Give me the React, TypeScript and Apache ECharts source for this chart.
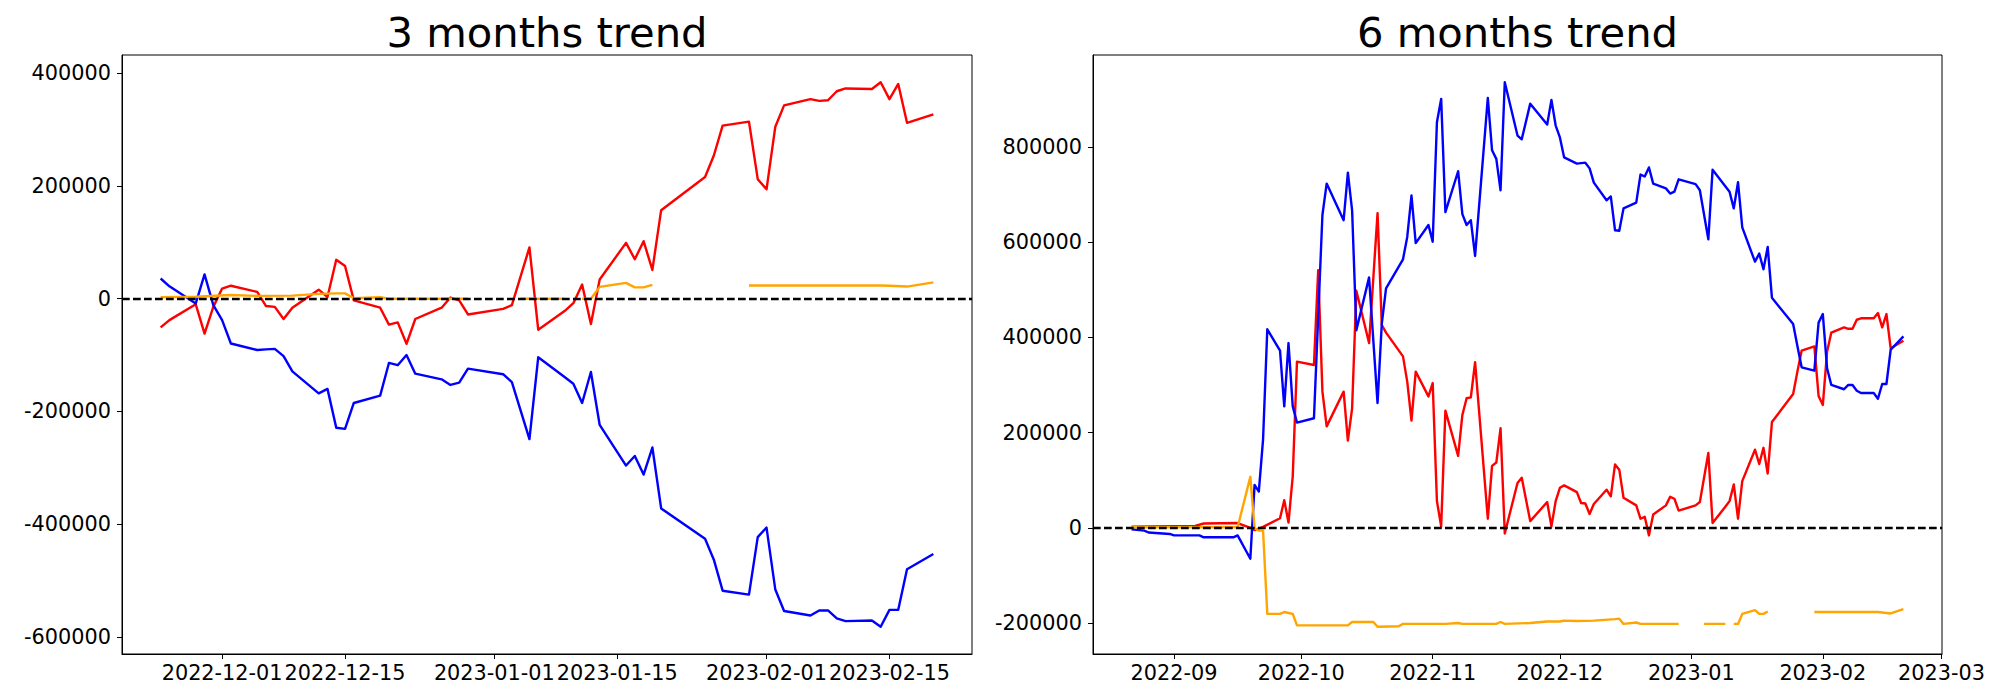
import React, { useEffect, useRef } from 'react';
import * as echarts from 'echarts';

const ts = (s: string) => {
  const [y, m, d] = s.split('-').map(Number);
  return new Date(y, m - 1, d).getTime();
};

// ---------- 3 months trend ----------
const title3m = '3 months trend';
const dates3m = [
  '2022-11-24', '2022-11-25', '2022-11-28', '2022-11-29', '2022-11-30',
  '2022-12-01', '2022-12-02', '2022-12-05', '2022-12-06', '2022-12-07', '2022-12-08', '2022-12-09',
  '2022-12-12', '2022-12-13', '2022-12-14', '2022-12-15', '2022-12-16', '2022-12-19', '2022-12-20',
  '2022-12-21', '2022-12-22', '2022-12-23', '2022-12-26', '2022-12-27', '2022-12-28', '2022-12-29',
  '2023-01-02', '2023-01-03', '2023-01-05', '2023-01-06', '2023-01-09', '2023-01-10', '2023-01-11',
  '2023-01-12', '2023-01-13', '2023-01-16', '2023-01-17', '2023-01-18', '2023-01-19', '2023-01-20',
  '2023-01-25', '2023-01-26', '2023-01-27', '2023-01-30', '2023-01-31',
  '2023-02-01', '2023-02-02', '2023-02-03', '2023-02-06', '2023-02-07', '2023-02-08', '2023-02-09',
  '2023-02-10', '2023-02-13', '2023-02-14', '2023-02-15', '2023-02-16', '2023-02-17', '2023-02-20',
];
const blue3m = [
  35800, 22000, -8500, 43000, -11500,
  -38000, -79500, -91000, -90000, -89000, -102000, -129000,
  -168000, -160000, -229000, -231000, -185000, -172000, -114000,
  -118000, -100000, -133000, -143000, -153000, -149000, -124000,
  -134000, -148000, -249000, -104000, -139000, -151000, -185000,
  -130000, -224000, -296000, -279000, -312000, -264000, -372000,
  -426000, -463000, -518000, -525000, -423000,
  -406000, -516000, -554000, -562000, -553000, -553000, -567000,
  -572000, -571000, -582000, -552000, -552000, -480000, -453000,
];
const red3m = [
  -51000, -38000, -10000, -62000, -14500,
  18000, 23000, 12000, -13000, -14500, -36000, -16000,
  16000, 3000, 69000, 58000, -3000, -16000, -46000,
  -42000, -80000, -36000, -16000, 2000, -3000, -28000,
  -18000, -11500, 91000, -55000, -22000, -8000, 25000,
  -45000, 34000, 99000, 70000, 102000, 51000, 157000,
  216000, 254000, 307000, 314000, 212000,
  194000, 305000, 343000, 354000, 351000, 352000, 368000,
  373000, 372000, 384000, 354000, 381000, 312000, 327000,
];
const orangeDates3m = [
  '2022-11-24', '2022-11-28', '2022-12-02', '2022-12-05', '2022-12-09', '2022-12-12', '2022-12-14',
  '2022-12-15', '2022-12-16', '2022-12-19', '2022-12-20', '2022-12-29', '2023-01-03', '2023-01-04',
  '2023-01-09', '2023-01-10', '2023-01-11', '2023-01-12', '2023-01-13', '2023-01-16', '2023-01-17',
  '2023-01-18', '2023-01-19', '2023-01-20', '2023-01-30', '2023-02-14', '2023-02-15', '2023-02-17',
  '2023-02-20',
];
const orange3m: (number | null)[] = [
  2500, 3500, 6500, 5000, 5500, 8500, 9500,
  9500, 700, 2500, 0, 0, null, 0,
  0, null, 0, 0, 21000, 28000, 20000,
  20000, 24500, null, 23500, 23500, 23000, 21500,
  29000,
];
const xTicks3m = ['2022-12-01', '2022-12-15', '2023-01-01', '2023-01-15', '2023-02-01', '2023-02-15'];
const yTicks3m = [-600000, -400000, -200000, 0, 200000, 400000];

// ---------- 6 months trend ----------
const title6m = '6 months trend';
const blueDates6m = [
  '2022-08-22', '2022-08-25', '2022-08-26', '2022-08-31', '2022-09-01', '2022-09-07', '2022-09-08',
  '2022-09-15', '2022-09-16', '2022-09-19', '2022-09-20', '2022-09-21', '2022-09-22', '2022-09-23',
  '2022-09-26', '2022-09-27', '2022-09-28', '2022-09-29', '2022-09-30', '2022-10-04', '2022-10-06',
  '2022-10-07', '2022-10-11', '2022-10-12', '2022-10-13', '2022-10-14', '2022-10-17', '2022-10-19',
  '2022-10-20', '2022-10-21', '2022-10-25', '2022-10-26', '2022-10-27', '2022-10-28', '2022-10-31',
  '2022-11-01', '2022-11-02', '2022-11-03', '2022-11-04', '2022-11-07', '2022-11-08', '2022-11-09',
  '2022-11-10', '2022-11-11', '2022-11-14', '2022-11-15', '2022-11-16', '2022-11-17', '2022-11-18',
  '2022-11-21', '2022-11-22', '2022-11-24', '2022-11-28', '2022-11-29', '2022-11-30', '2022-12-01',
  '2022-12-02', '2022-12-05', '2022-12-07', '2022-12-08', '2022-12-09', '2022-12-12', '2022-12-13',
  '2022-12-14', '2022-12-15', '2022-12-16', '2022-12-19', '2022-12-20', '2022-12-21', '2022-12-22',
  '2022-12-23', '2022-12-26', '2022-12-27', '2022-12-28', '2022-12-29', '2023-01-02', '2023-01-03',
  '2023-01-05', '2023-01-06', '2023-01-10', '2023-01-11', '2023-01-12', '2023-01-13', '2023-01-16',
  '2023-01-17', '2023-01-18', '2023-01-19', '2023-01-20', '2023-01-25', '2023-01-26', '2023-01-27',
  '2023-01-30', '2023-01-31', '2023-02-01', '2023-02-02', '2023-02-03', '2023-02-06', '2023-02-07',
  '2023-02-08', '2023-02-09', '2023-02-10', '2023-02-13', '2023-02-14', '2023-02-15', '2023-02-16',
  '2023-02-17', '2023-02-20',
];
const blue6m = [
  -3000, -6000, -10000, -13000, -16000, -16000, -20000,
  -20000, -16000, -65000, 90000, 76000, 185000, 417000,
  372000, 255000, 388000, 255000, 221000, 230000, 657000,
  723000, 646000, 746000, 667000, 415000, 526000, 262000,
  429000, 503000, 564000, 611000, 698000, 598000, 636000,
  601000, 852000, 901000, 663000, 749000, 659000, 636000,
  646000, 571000, 903000, 793000, 775000, 709000, 936000,
  824000, 816000, 891000, 847000, 899000, 845000, 820000,
  778000, 765000, 767000, 755000, 725000, 688000, 696000,
  625000, 624000, 671000, 683000, 742000, 738000, 757000,
  723000, 713000, 702000, 706000, 732000, 722000, 709000,
  606000, 752000, 706000, 671000, 726000, 631000, 559000,
  576000, 543000, 590000, 483000, 428000, 382000, 337000,
  330000, 431000, 449000, 335000, 300000, 291000, 300000,
  300000, 288000, 283000, 283000, 271000, 302000, 302000,
  374000, 402000,
];
const redDates6m = [
  '2022-08-22', '2022-09-06', '2022-09-08', '2022-09-16', '2022-09-19', '2022-09-20', '2022-09-22',
  '2022-09-26', '2022-09-27', '2022-09-28', '2022-09-29', '2022-09-30', '2022-10-04', '2022-10-05',
  '2022-10-06', '2022-10-07', '2022-10-11', '2022-10-12', '2022-10-13', '2022-10-14', '2022-10-17',
  '2022-10-19', '2022-10-20', '2022-10-21', '2022-10-25', '2022-10-26', '2022-10-27', '2022-10-28',
  '2022-10-31', '2022-11-01', '2022-11-02', '2022-11-03', '2022-11-04', '2022-11-07', '2022-11-08',
  '2022-11-09', '2022-11-10', '2022-11-11', '2022-11-14', '2022-11-15', '2022-11-16', '2022-11-17',
  '2022-11-18', '2022-11-21', '2022-11-22', '2022-11-24', '2022-11-28', '2022-11-29', '2022-11-30',
  '2022-12-01', '2022-12-02', '2022-12-05', '2022-12-06', '2022-12-07', '2022-12-08', '2022-12-09',
  '2022-12-12', '2022-12-13', '2022-12-14', '2022-12-15', '2022-12-16', '2022-12-19', '2022-12-20',
  '2022-12-21', '2022-12-22', '2022-12-23', '2022-12-26', '2022-12-27', '2022-12-28', '2022-12-29',
  '2023-01-02', '2023-01-03', '2023-01-05', '2023-01-06', '2023-01-09', '2023-01-10', '2023-01-11',
  '2023-01-12', '2023-01-13', '2023-01-16', '2023-01-17', '2023-01-18', '2023-01-19', '2023-01-20',
  '2023-01-25', '2023-01-26', '2023-01-27', '2023-01-30', '2023-01-31', '2023-02-01', '2023-02-02',
  '2023-02-03', '2023-02-06', '2023-02-07', '2023-02-08', '2023-02-09', '2023-02-10', '2023-02-13',
  '2023-02-14', '2023-02-15', '2023-02-16', '2023-02-17', '2023-02-20',
];
const red6m = [
  2000, 4000, 9000, 10000, 0, -5000, 2000,
  20000, 58000, 11000, 108000, 349000, 342000, 541000,
  286000, 213000, 286000, 183000, 251000, 498000, 388000,
  661000, 426000, 410000, 360000, 307000, 225000, 328000,
  276000, 304000, 56000, 3000, 246000, 151000, 237000,
  272000, 274000, 348000, 19000, 130000, 137000, 209000,
  -12000, 94000, 105000, 14000, 54000, 3000, 56000,
  84000, 89000, 75000, 52000, 51000, 29000, 50000,
  80000, 66000, 133000, 122000, 63000, 47000, 19000,
  23000, -16000, 28000, 47000, 65000, 61000, 36000,
  47000, 54000, 157000, 10000, 44000, 56000, 91000,
  19000, 98000, 164000, 134000, 168000, 114000, 222000,
  281000, 328000, 372000, 381000, 277000, 258000, 370000,
  410000, 421000, 418000, 418000, 437000, 440000, 440000,
  451000, 421000, 449000, 377000, 393000,
];
const orangeDates6m = [
  '2022-08-22', '2022-09-16', '2022-09-19', '2022-09-20', '2022-09-21', '2022-09-22', '2022-09-23',
  '2022-09-26', '2022-09-27', '2022-09-28', '2022-09-29', '2022-09-30', '2022-10-12', '2022-10-13',
  '2022-10-18', '2022-10-19', '2022-10-24', '2022-10-25', '2022-11-04', '2022-11-07', '2022-11-08',
  '2022-11-16', '2022-11-17', '2022-11-18', '2022-11-24', '2022-11-28', '2022-12-01', '2022-12-02',
  '2022-12-05', '2022-12-09', '2022-12-14', '2022-12-15', '2022-12-16', '2022-12-19', '2022-12-20',
  '2022-12-29', '2023-01-03', '2023-01-04', '2023-01-09', '2023-01-10', '2023-01-11', '2023-01-12',
  '2023-01-13', '2023-01-16', '2023-01-17', '2023-01-18', '2023-01-19', '2023-01-20', '2023-01-30',
  '2023-02-14', '2023-02-17', '2023-02-20',
];
const orange6m: (number | null)[] = [
  1000, 1000, 107000, -1000, -6000, -6000, -181000,
  -181000, -177000, -179000, -181000, -205000, -205000, -198000,
  -198000, -208000, -207000, -202000, -202000, -200000, -202000,
  -202000, -198000, -202000, -200000, -197000, -197000, -195000,
  -196000, -195000, -192000, -191000, -202000, -199000, -202000,
  -202000, null, -202000, -202000, null, -202000, -202000,
  -181000, -173000, -181000, -181000, -176000, null, -177000,
  -177000, -180000, -171000,
];
const xTicks6m = ['2022-09-01', '2022-10-01', '2022-11-01', '2022-12-01', '2023-01-01', '2023-02-01', '2023-03-01'];
const yTicks6m = [-200000, 0, 200000, 400000, 600000, 800000];

const FONT = 'DejaVu Sans';
const p2 = (n: number) => (n < 10 ? '0' + n : '' + n);
const fmtDay = (v: number) => {
  const d = new Date(v);
  return `${d.getFullYear()}-${p2(d.getMonth() + 1)}-${p2(d.getDate())}`;
};
const fmtMonth = (v: number) => {
  const d = new Date(v);
  return `${d.getFullYear()}-${p2(d.getMonth() + 1)}`;
};

const zip = (dates: string[], vals: (number | null)[]) =>
  dates.map((d, i) => [ts(d), vals[i] === null ? '-' : vals[i]]);

const padRange = (vals: number[]) => {
  const lo = Math.min(...vals);
  const hi = Math.max(...vals);
  const m = (hi - lo) * 0.05;
  return [lo - m, hi + m];
};

const nums = (arr: (number | null)[]) => arr.filter((v): v is number => v !== null);

export default function App() {
  const ref = useRef<HTMLDivElement>(null);
  useEffect(() => {
    if (!ref.current) return;
    const chart = echarts.init(ref.current, undefined, { renderer: 'svg' });

    const x3 = padRange([...dates3m, ...orangeDates3m].map(ts));
    const y3 = padRange([...blue3m, ...red3m, ...nums(orange3m), 0]);
    const x6 = padRange([...blueDates6m, ...redDates6m, ...orangeDates6m].map(ts));
    const y6 = padRange([...blue6m, ...red6m, ...nums(orange6m), 0]);

    const tickStyle = { show: true, inside: false, length: 5, lineStyle: { color: '#000', width: 1 } };
    const labelStyle = { color: '#000', fontFamily: FONT, fontSize: 20.8 };

    const mkX = (idx: number, range: number[], ticks: string[], fmt: (v: number) => string) => ({
      type: 'value',
      gridIndex: idx,
      min: range[0],
      max: range[1],
      scale: true,
      splitLine: { show: false },
      axisLine: { show: true, onZero: false, lineStyle: { color: '#000', width: 1 } },
      axisTick: { ...tickStyle, customValues: ticks.map(ts) },
      axisLabel: { ...labelStyle, margin: 8, customValues: ticks.map(ts), formatter: (v: number) => fmt(v), hideOverlap: false },
    });
    const mkY = (idx: number, range: number[], ticks: number[]) => ({
      type: 'value',
      gridIndex: idx,
      min: range[0],
      max: range[1],
      splitLine: { show: false },
      axisLine: { show: true, onZero: false, lineStyle: { color: '#000', width: 1 } },
      axisTick: { ...tickStyle, customValues: ticks },
      axisLabel: { ...labelStyle, margin: 11, customValues: ticks, formatter: (v: number) => String(Math.round(v)) },
    });

    const LW = 2.4;
    const lineSeries = (xi: number, color: string, data: any[], connect: boolean, extra: any = {}) => ({
      type: 'line',
      xAxisIndex: xi,
      yAxisIndex: xi,
      data,
      showSymbol: false,
      symbol: 'none',
      connectNulls: connect,
      silent: true,
      lineStyle: { color, width: LW, join: 'round', cap: 'butt' },
      itemStyle: { color },
      ...extra,
    });
    const zeroLine = {
      symbol: ['none', 'none'],
      silent: true,
      label: { show: false },
      lineStyle: { color: '#000', width: LW, type: [7.7, 3.3] },
      data: [{ yAxis: 0 }],
    };

    chart.setOption({
      animation: false,
      backgroundColor: '#fff',
      title: [
        {
          text: title3m, left: 547, top: 11, textAlign: 'center', padding: 0,
          textStyle: { fontFamily: FONT, fontSize: 41.7, fontWeight: 'normal', color: '#000' },
        },
        {
          text: title6m, left: 1517.5, top: 11, textAlign: 'center', padding: 0,
          textStyle: { fontFamily: FONT, fontSize: 41.7, fontWeight: 'normal', color: '#000' },
        },
      ],
      grid: [
        { left: 122, right: 1028, top: 55, bottom: 46, show: true, borderColor: '#000', borderWidth: 1, backgroundColor: 'transparent', outerBoundsMode: 'none' },
        { left: 1093, right: 58, top: 55, bottom: 46, show: true, borderColor: '#000', borderWidth: 1, backgroundColor: 'transparent', outerBoundsMode: 'none' },
      ],
      xAxis: [mkX(0, x3, xTicks3m, fmtDay), mkX(1, x6, xTicks6m, fmtMonth)],
      yAxis: [mkY(0, y3, yTicks3m), mkY(1, y6, yTicks6m)],
      series: [
        lineSeries(0, '#ff0000', zip(dates3m, red3m), true),
        lineSeries(0, '#0000ff', zip(dates3m, blue3m), true),
        lineSeries(0, '#ffa500', zip(orangeDates3m, orange3m), false, { markLine: zeroLine }),
        lineSeries(1, '#ff0000', zip(redDates6m, red6m), true),
        lineSeries(1, '#0000ff', zip(blueDates6m, blue6m), true),
        lineSeries(1, '#ffa500', zip(orangeDates6m, orange6m), false, { markLine: zeroLine }),
      ],
    });
    return () => chart.dispose();
  }, []);
  return <div ref={ref} style={{ position: 'fixed', left: 0, top: 0, width: 2000, height: 700 }} />;
}
